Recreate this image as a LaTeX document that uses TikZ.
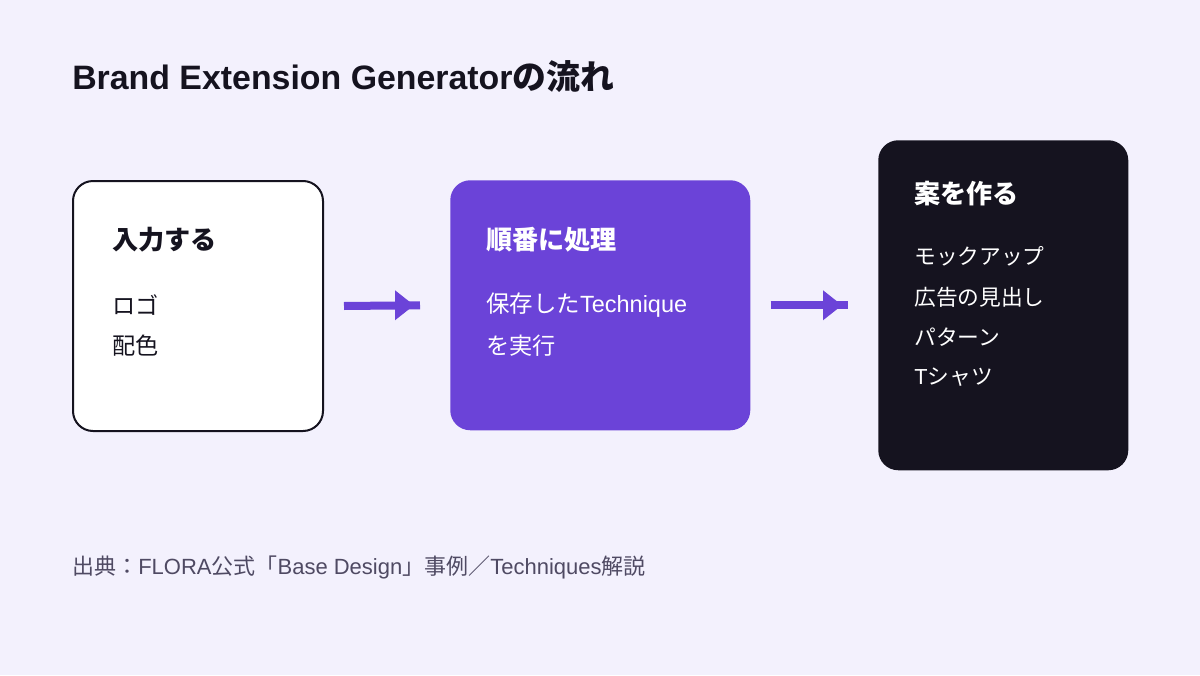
\documentclass[tikz,border=0pt]{standalone}
\usepackage{fontspec}
\setmainfont{Liberation Sans}
\newfontfamily\jp{Noto Sans CJK JP}
\usetikzlibrary{calc}
\definecolor{bg}{HTML}{F3F1FD}
\definecolor{ink}{HTML}{15131F}
\definecolor{purp}{HTML}{6B43D8}
\definecolor{foot}{HTML}{4F4A63}
\begin{document}
\begin{tikzpicture}[x=0.75pt,y=-0.75pt,
  box/.style={rounded corners=15pt,inner sep=0pt,anchor=north west},
  txt/.style={anchor=west,inner sep=0pt},
  head/.style={txt,font=\jp\bfseries\fontsize{19.6}{23}\selectfont},
  item/.style={txt,font=\fontsize{17.6}{21}\selectfont},
  jitem/.style={txt,font=\jp\fontsize{17.4}{21}\selectfont},
  kitem/.style={txt,font=\jp\fontsize{16.3}{20}\selectfont},
  flow/.style={draw=purp,line width=6pt},
  tip/.style={fill=purp}]
\fill[bg] (0,0) rectangle (1200,675);
\useasboundingbox (0,0) rectangle (1200,675);
\node[txt,text=ink,font=\bfseries\fontsize{25.4}{30}\selectfont] (title) at (72,77) {Brand Extension Generator{\jp の流れ}};
% boxes
\node[box,draw=ink,line width=1.5pt,fill=white,minimum width=187.5pt,minimum height=187.5pt] (b1) at (72,180) {};
\node[box,fill=purp,minimum width=225pt,minimum height=187.5pt] (b2) at (450,180) {};
\node[box,fill=ink,minimum width=187.5pt,minimum height=247.5pt] (b3) at (878,140) {};
% box 1 text
\node[head,text=ink] (h1) at (112,240) {入力する};
\node[jitem,text=ink] (i11) at (112,305) {ロゴ};
\node[jitem,text=ink] (i12) at (112,346) {配色};
% box 2 text
\node[head,text=white] (h2) at (486,240) {順番に処理};
\node[item,text=white] (i21) at (486,305) {{\jp 保存した}Technique};
\node[jitem,text=white] (i22) at (486,346) {を実行};
% box 3 text
\node[head,text=white] (h3) at (914,194) {案を作る};
\node[kitem,text=white] (i31) at (914,256) {モックアップ};
\node[kitem,text=white] (i32) at (914,297) {広告の見出し};
\node[kitem,text=white] (i33) at (914,337) {パターン};
\node[txt,text=white,font=\fontsize{16.3}{20}\selectfont] (i34) at (914,377) {T{\jp シャツ}};
% arrows
\coordinate (a1s) at ($(b1.east)+(20,0)$);
\coordinate (a1e) at ($(b2.west)+(-30,0)$);
\coordinate (a2s) at ($(b2.east)+(20,0)$);
\coordinate (a2e) at ($(b3.west |- b2.west)+(-30,0)$);
\draw[flow] (a1s) -- (a1e);
\fill[tip] ($(a1e)+(-25,-15)$) -- ($(a1e)+(-6,0)$) -- ($(a1e)+(-25,15)$) -- cycle;
\draw[flow] (a2s) -- (a2e);
\fill[tip] ($(a2e)+(-25,-15)$) -- ($(a2e)+(-6,0)$) -- ($(a2e)+(-25,15)$) -- cycle;
% footer
\node[txt,text=foot,font=\fontsize{16.5}{20}\selectfont] (src) at (72,567) {{\jp 出典：}FLORA{\jp 公式「}Base Design{\jp 」事例／}Techniques{\jp 解説}};
\end{tikzpicture}
\end{document}
